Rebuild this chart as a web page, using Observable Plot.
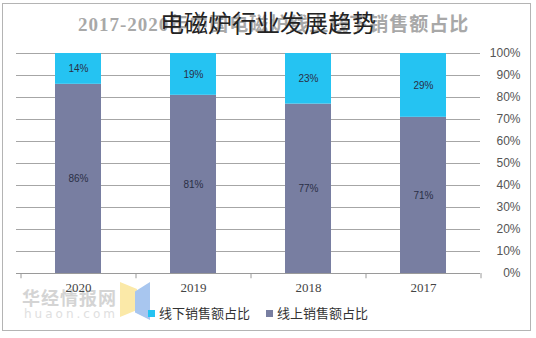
<!DOCTYPE html>
<html><head><meta charset="utf-8">
<script src="https://cdn.jsdelivr.net/npm/d3@7"></script>
<script src="https://cdn.jsdelivr.net/npm/@observablehq/plot@0.6"></script>
<style>
body{margin:0;background:#fff;font-family:"Noto Sans CJK SC",sans-serif}
#wrap{position:relative;width:536px;height:338px;overflow:hidden;background:#fff}
#frame{position:absolute;left:2px;top:3px;width:529px;height:328px;border:1px solid #b4b4b4;box-sizing:border-box}
#chart{position:absolute;left:0;top:0}
#bgtitle{position:absolute;left:78px;top:9px;width:372px;text-align:center;font-size:19px;font-weight:bold;color:#a8a8a8;letter-spacing:1px;white-space:nowrap;font-family:"Liberation Serif","Noto Sans CJK SC",serif}
#title{position:absolute;left:0;top:4px;width:536px;text-align:center;font-size:24px;color:#222;white-space:nowrap}
#legend{position:absolute;top:304px;left:0;width:536px;height:20px;font-size:13px;color:#333}
.li{position:absolute;top:0;white-space:nowrap;line-height:18px}
.sw{display:inline-block;width:7px;height:7px;margin-right:4px;vertical-align:1px}
#wm1{position:absolute;left:22px;top:284px;font-size:18px;font-weight:bold;color:#d4d4d4;letter-spacing:1px}
#wm2{position:absolute;left:24px;top:307px;font-size:12px;color:#e0e0e0;letter-spacing:3px;font-family:"DejaVu Sans",sans-serif}
#logoY{position:absolute;left:120px;top:282px;width:17px;height:35px;background:#fbe9a8;clip-path:polygon(0 0,100% 20%,100% 80%,0 100%)}
#logoB{position:absolute;left:135px;top:282px;width:15px;height:38px;background:#a8c6ef;clip-path:polygon(100% 0,0 25%,0 80%,100% 100%)}
</style></head>
<body><div id="wrap">
<div id="frame"></div>
<div id="wm1">华经情报网</div>
<div id="wm2">huaon.com</div>
<div id="logoY"></div><div id="logoB"></div>
<div id="chart"></div>
<div id="bgtitle">2017-2020年中国电磁炉线上线下销售额占比</div>
<div id="title">电磁炉行业发展趋势</div>
<div id="legend"></div>
</div>
<script>
const years = ["2020", "2019", "2018", "2017"];
const online = [86, 81, 77, 71];   // 线上销售额占比 (bottom)
const offline = [14, 19, 23, 29];  // 线下销售额占比 (top)
const seriesNames = ["线上销售额占比", "线下销售额占比"];
const seriesColors = ["#787ea1", "#25c3f2"];
const yTicks = [0, 10, 20, 30, 40, 50, 60, 70, 80, 90, 100];

const rows = [];
years.forEach((y, i) => {
  rows.push({year: y, series: seriesNames[0], value: online[i], y1: 0, y2: online[i], mid: online[i] / 2});
  rows.push({year: y, series: seriesNames[1], value: offline[i], y1: online[i], y2: online[i] + offline[i], mid: online[i] + offline[i] / 2});
});

const plot = Plot.plot({
  width: 536,
  height: 338,
  marginLeft: 20,
  marginRight: 56,
  marginTop: 53,
  marginBottom: 65,
  style: {background: "transparent", fontFamily: "Liberation Sans, sans-serif"},
  x: {domain: years, paddingInner: 0.6, paddingOuter: 0.3, label: null},
  y: {domain: [0, 100], label: null},
  color: {domain: seriesNames, range: seriesColors},
  marks: [
    Plot.ruleY(yTicks.filter(d => d > 0), {stroke: "#a6a6a6", insetLeft: -4}),
    Plot.rectY(rows, {x: "year", y1: "y1", y2: "y2", fill: "series"}),
    Plot.ruleY([0], {stroke: "#9a9a9a", insetLeft: -4}),
    Plot.ruleX(years, {x: d => d, dx: -57.5, y1: 0, y2: -2.4, stroke: "#9a9a9a"}),
    Plot.ruleX([years[years.length - 1]], {x: d => d, dx: 57.5, y1: 0, y2: -2.4, stroke: "#9a9a9a"}),
    Plot.text(rows, {x: "year", y: "mid", text: d => d.value + "%", fill: "#2a2f45", fontSize: 10}),
    Plot.axisX({tickSize: 0, tickPadding: 9, fontSize: 13, fontFamily: "Liberation Serif, serif", fill: "#444"}),
    Plot.axisY({anchor: "right", ticks: yTicks, tickSize: 0, tickPadding: 40, textAnchor: "end", fontSize: 12, fill: "#555", tickFormat: d => d + "%"})
  ]
});
document.getElementById("chart").appendChild(plot);

const legend = document.getElementById("legend");
const pos = [148, 266];
[1, 0].forEach((si, k) => {
  const el = document.createElement("div");
  el.className = "li";
  el.style.left = pos[k] + "px";
  el.innerHTML = `<span class="sw" style="background:${seriesColors[si]}"></span>${seriesNames[si]}`;
  legend.appendChild(el);
});
</script>
</body></html>
